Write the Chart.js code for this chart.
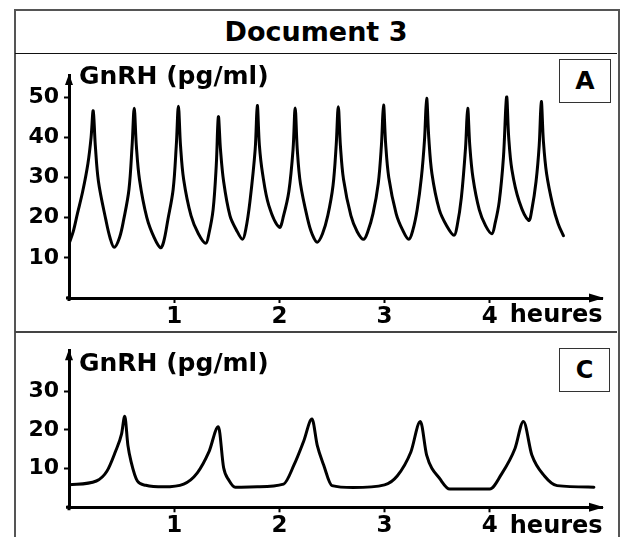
<!DOCTYPE html>
<html>
<head>
<meta charset="utf-8">
<script src="https://cdn.jsdelivr.net/npm/chart.js@4.4.1/dist/chart.umd.min.js"></script>
<style>
  html, body { margin:0; padding:0; background:#fff; }
  body { width:624px; height:537px; position:relative; overflow:hidden; font-family:"DejaVu Sans", sans-serif; }
  #frame { position:absolute; left:14px; top:9px; width:602px; height:600px; border:2px solid #555; }
  #sep1 { position:absolute; left:15px; top:53px; width:602px; height:0; border-top:1.5px solid #111; }
  #sep2 { position:absolute; left:15px; top:331px; width:602px; height:0; border-top:2px solid #444; }
  #title { position:absolute; left:15px; top:11px; width:602px; height:42px; line-height:42px; text-align:center; font-weight:bold; font-size:27px; color:#000; }
  .tag { position:absolute; border:1px solid #333; background:#fff; text-align:center; font-weight:bold; color:#000; }
  canvas { position:absolute; }
</style>
</head>
<body>
<div id="frame"></div>
<div id="sep1"></div>
<div id="sep2"></div>
<div id="title">Document 3</div>
<canvas id="cA" width="603" height="278" style="left:15px;top:54px;width:603px;height:278px"></canvas>
<canvas id="cC" width="603" height="205" style="left:15px;top:332px;width:603px;height:205px"></canvas>
<div class="tag" style="left:559px;top:59px;width:50px;height:42px;line-height:42px;font-size:25px">A</div>
<div class="tag" style="left:559px;top:348px;width:49px;height:42px;line-height:42px;font-size:24px">C</div>
<script>
// ---- Data (hours, GnRH pg/ml) ----
const hoursA = [0.00,0.04,0.08,0.13,0.18,0.21,0.23,0.25,0.28,0.35,0.39,0.43,
  0.48,0.52,0.57,0.60,0.62,0.64,0.67,0.74,0.81,0.87,
  0.90,0.94,0.99,1.02,1.04,1.06,1.09,1.16,1.23,1.30,
  1.33,1.37,1.40,1.42,1.44,1.47,1.53,1.59,1.65,
  1.68,1.72,1.77,1.79,1.81,1.84,1.90,2.00,
  2.04,2.09,2.13,2.15,2.17,2.20,2.27,2.31,2.36,
  2.41,2.46,2.51,2.54,2.56,2.58,2.61,2.68,2.74,2.80,
  2.84,2.89,2.94,2.97,2.99,3.01,3.04,3.11,3.17,3.23,
  3.27,3.31,3.35,3.38,3.40,3.42,3.45,3.52,3.59,3.66,
  3.69,3.73,3.77,3.79,3.81,3.84,3.90,3.96,4.02,
  4.05,4.09,4.13,4.16,4.18,4.21,4.28,4.37,
  4.40,4.44,4.47,4.49,4.51,4.54,4.60,4.65,4.70];
const gnrhA = [13.5,16.5,21,26.5,33.5,40,46.6,38,29,19.5,15,12.6,
  15,19.5,27,38,47.2,38,29.5,20,15,12.5,
  14,19.5,27,38,47.7,38,29.5,20.5,16,13.6,
  16,22,33,45.1,37,29,20.5,17,14.6,
  17,24,37,47.9,38,31,23,17.6,
  20.5,26.5,37,47.3,37,28.5,19.5,16,13.9,
  16,20.5,28,38,47.6,38,29.5,20.5,16.5,14.6,
  16.5,21,28.5,38,48.0,38.5,30,21,17,14.6,
  17,22,30,39.5,49.7,40,31,22,18,15.6,
  18,25,37.5,47.2,38,30,22,18,16.0,
  18.5,24,35,50.0,40,32,24,19.3,
  22,29,38,48.9,39,31,23,18.5,15.5];

const hoursC = [0.00,0.26,0.36,0.44,0.50,0.53,0.56,0.59,0.65,0.73,0.90,1.09,
  1.22,1.33,1.42,1.47,1.52,1.58,1.79,2.04,
  2.14,2.23,2.31,2.36,2.42,2.50,2.70,3.00,
  3.12,3.25,3.34,3.40,3.53,3.62,4.00,
  4.11,4.24,4.32,4.40,4.52,4.64,4.99];
const gnrhC = [5.8,6.8,9.3,14.3,19,23.5,16,11.8,6.8,5.7,5.3,6.0,
  8.9,14.3,20.8,10.2,7,5.2,5.3,6.0,
  11,17,22.8,16,11,5.6,5.1,5.8,
  8.1,14.3,22.2,13.5,7.2,4.7,4.7,
  8.5,15.2,22.2,13.5,8.1,5.6,5.2];

const xTickValues = [1, 2, 3, 4];
const yTicksA = [10, 20, 30, 40, 50];
const yTicksC = [10, 20, 30];
const X_MAX = 5.067;
const yLabel = 'GnRH (pg/ml)';
const xUnit = 'heures';

const FONT = '"DejaVu Sans", sans-serif';

const decor = {
  id: 'decor',
  afterDraw(chart) {
    const ctx = chart.ctx, a = chart.chartArea;
    const xs = chart.scales.x, ys = chart.scales.y;
    const x0 = xs.getPixelForValue(0), y0 = ys.getPixelForValue(0);
    ctx.save();
    ctx.fillStyle = '#000';
    ctx.strokeStyle = '#000';
    ctx.lineWidth = 3;
    ctx.beginPath();
    ctx.moveTo(x0 - 3, y0); ctx.lineTo(x0 + 2, y0);
    ctx.moveTo(x0, y0 - 2); ctx.lineTo(x0, y0 + 3);
    ctx.stroke();
    // y arrow
    ctx.beginPath();
    ctx.moveTo(x0, a.top - 1);
    ctx.lineTo(x0 - 4, a.top + 10);
    ctx.lineTo(x0 + 4, a.top + 10);
    ctx.closePath(); ctx.fill();
    // x arrow
    ctx.beginPath();
    ctx.moveTo(a.right + 2, y0);
    ctx.lineTo(a.right - 13, y0 - 4.5);
    ctx.lineTo(a.right - 13, y0 + 4.5);
    ctx.closePath(); ctx.fill();
    // axis title
    ctx.font = 'bold 25px ' + FONT;
    ctx.textBaseline = 'middle';
    ctx.textAlign = 'left';
    ctx.fillText(yLabel, x0 + 10, chart.options.plugins.decor.labelY);
    // unit after the last x tick
    ctx.font = 'bold 24px ' + FONT;
    ctx.fillText(xUnit, xs.getPixelForValue(4) + 20, chart.options.plugins.decor.unitY);
    ctx.restore();
  }
};

function makeChart(id, hours, vals, yMax, yTicks, padTop, xAxisH, labelY, unitY, xPad, mode) {
  const pts = hours.map((h, i) => ({ x: h, y: vals[i] }));
  return new Chart(document.getElementById(id), {
    type: 'line',
    data: { datasets: [{ data: pts, borderColor: '#000', borderWidth: 3, pointRadius: 0,
      tension: 0.35, cubicInterpolationMode: mode, fill: false,
      borderJoinStyle: 'round', borderCapStyle: 'round' }] },
    options: {
      responsive: false, animation: false, devicePixelRatio: 1,
      layout: { padding: { top: padTop, right: 16, left: 0, bottom: 0 } },
      plugins: { legend: { display: false }, tooltip: { enabled: false },
        decor: { labelY: labelY, unitY: unitY } },
      scales: {
        x: {
          type: 'linear', min: 0, max: X_MAX,
          afterBuildTicks: s => { s.ticks = xTickValues.map(v => ({ value: v })); },
          afterFit: s => { s.height = xAxisH; },
          grid: { drawOnChartArea: false, drawTicks: true, tickLength: 5, tickWidth: 2, tickColor: '#000' },
          border: { display: true, color: '#000', width: 3 },
          ticks: { color: '#000', padding: xPad, maxRotation: 0, autoSkip: false,
            font: { family: FONT, weight: 'bold', size: 23 } }
        },
        y: {
          type: 'linear', min: 0, max: yMax,
          afterBuildTicks: s => { s.ticks = yTicks.map(v => ({ value: v })); },
          afterFit: s => { s.width = 54; },
          grid: { drawOnChartArea: false, drawTicks: true, tickLength: 5, tickWidth: 2, tickColor: '#000' },
          border: { display: true, color: '#000', width: 3 },
          ticks: { color: '#000', padding: 5, autoSkip: false,
            font: { family: FONT, weight: 'bold', size: 22 } }
        }
      }
    },
    plugins: [decor]
  });
}

makeChart('cA', hoursA, gnrhA, 55.5, yTicksA, 21, 34, 23, 262, 0, 'default');
makeChart('cC', hoursC, gnrhC, 40.6, yTicksC, 12, 29.7, 32, 195, 0, 'monotone');
</script>
</body>
</html>
